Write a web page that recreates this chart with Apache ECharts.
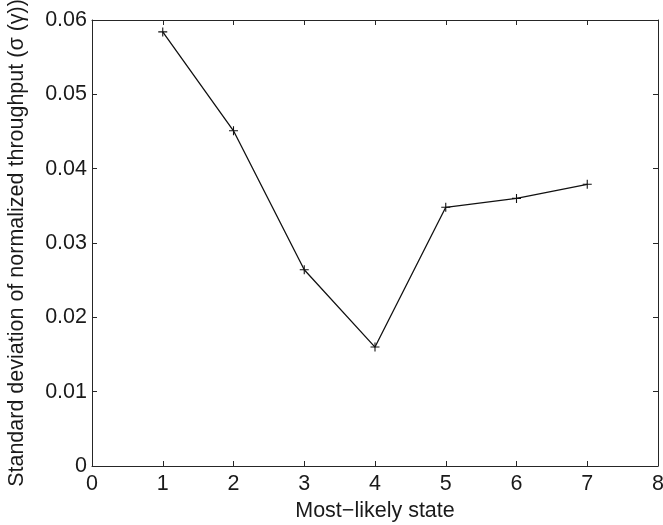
<!DOCTYPE html>
<html>
<head>
<meta charset="utf-8">
<script src="https://cdn.jsdelivr.net/npm/echarts@6/dist/echarts.min.js"></script>
<style>
  html, body { margin: 0; padding: 0; background: #fff; }
  #chart { width: 663px; height: 525px; }
</style>
</head>
<body>
<div id="chart"></div>
<script>
// Most-likely state vs. standard deviation of normalized throughput
const states = [1, 2, 3, 4, 5, 6, 7];
const stdDev = [0.0584, 0.0451, 0.0264, 0.0160, 0.0348, 0.0360, 0.0379];
const xTicks = [0, 1, 2, 3, 4, 5, 6, 7, 8];
const yTicks = [0, 0.01, 0.02, 0.03, 0.04, 0.05, 0.06];

const font = 'Liberation Sans, Arial, Helvetica, sans-serif';
const axisColor = '#262626';
const textColor = '#1a1a1a';
const fontSize = 21.5;
const plusPath = 'path://M4.4,0H5.6V4.4H10V5.6H5.6V10H4.4V5.6H0V4.4H4.4Z';

const pts = states.map((s, i) => [s, stdDev[i]]);

// Boxed axes with short inward ticks on every side
function boxAxis(extra) {
  const base = {
    axisLine: { show: true, onZero: false, lineStyle: { color: axisColor, width: 1 } },
    axisTick: { show: true, inside: true, length: 5, lineStyle: { color: axisColor, width: 1 } },
    splitLine: { show: false }
  };
  return Object.assign(base, extra);
}

const chart = echarts.init(document.getElementById('chart'), null, { renderer: 'canvas' });
chart.setOption({
  animation: false,
  backgroundColor: '#fff',
  grid: { left: 92, right: 5, top: 20, bottom: 59, containLabel: false, outerBoundsMode: 'none' },
  xAxis: [
    boxAxis({
      type: 'value', position: 'bottom', min: xTicks[0], max: xTicks[xTicks.length - 1], interval: 1,
      name: 'Most\u2212likely state', nameLocation: 'middle', nameGap: 32,
      nameTextStyle: { fontFamily: font, fontSize: fontSize, color: textColor },
      axisLabel: { fontFamily: font, fontSize: fontSize, color: textColor, margin: 7 }
    }),
    boxAxis({
      type: 'value', position: 'top', min: xTicks[0], max: xTicks[xTicks.length - 1], interval: 1,
      axisLabel: { show: false }
    })
  ],
  yAxis: [
    boxAxis({
      type: 'value', position: 'left', min: yTicks[0], max: yTicks[yTicks.length - 1], interval: 0.01,
      name: 'Standard deviation of normalized throughput (\u03c3 (\u03b3))',
      nameLocation: 'middle', nameGap: 64,
      nameTextStyle: { fontFamily: font, fontSize: fontSize, color: textColor },
      axisLabel: {
        fontFamily: font, fontSize: fontSize, color: textColor, margin: 5,
        formatter: v => (v === 0 ? '0' : v.toFixed(2))
      }
    }),
    boxAxis({
      type: 'value', position: 'right', min: yTicks[0], max: yTicks[yTicks.length - 1], interval: 0.01,
      axisLabel: { show: false }
    })
  ],
  series: [{
    type: 'line',
    data: pts,
    symbol: plusPath,
    symbolSize: 9,
    showAllSymbol: true,
    lineStyle: { color: '#111', width: 1.3 },
    itemStyle: { color: '#111' }
  }]
});
</script>
</body>
</html>
